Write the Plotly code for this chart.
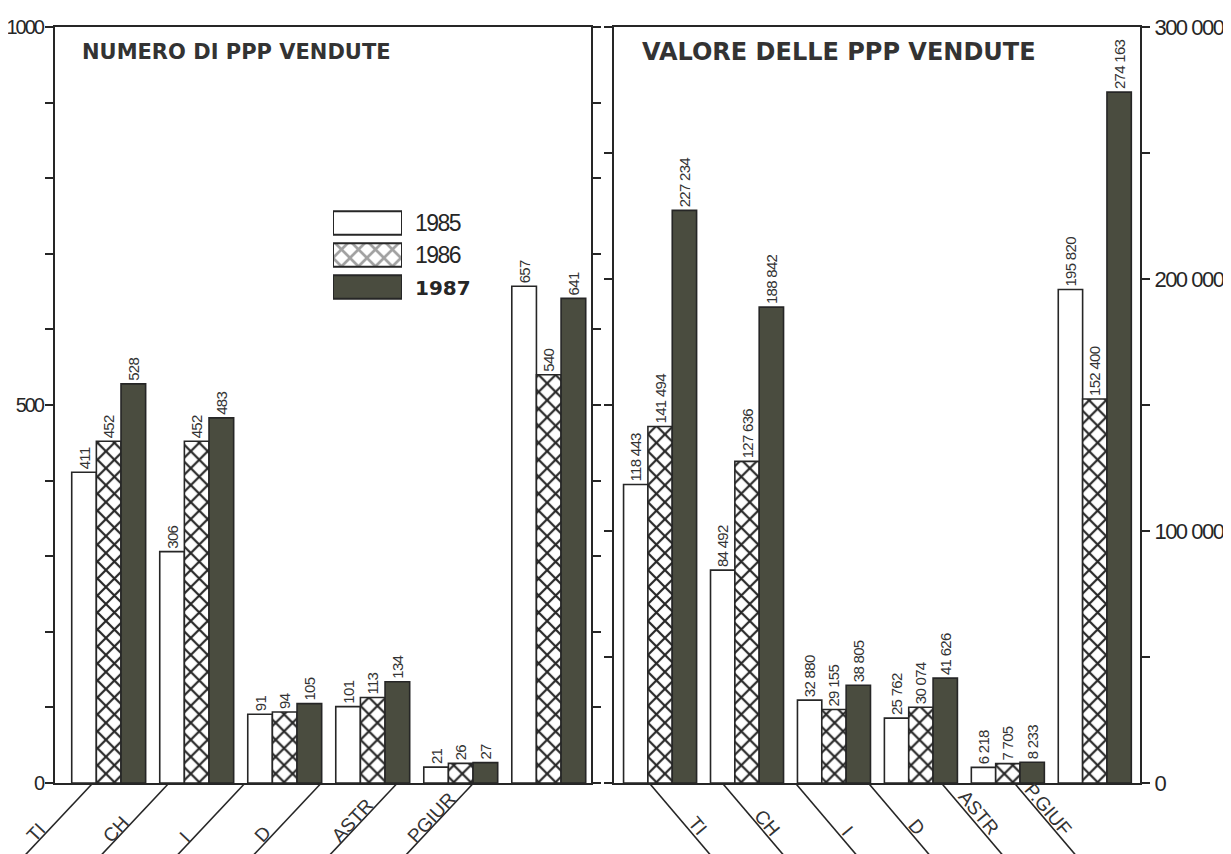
import plotly.graph_objects as go

# ---------------- data ----------------
categories_left = ["TI", "CH", "I", "D", "ASTR", "PGIUR"]
categories_right = ["TI", "CH", "I", "D", "ASTR", "P.GIUF"]
years = ["1985", "1986", "1987"]

count_1985 = [411, 306, 91, 101, 21, 657]
count_1986 = [452, 452, 94, 113, 26, 540]
count_1987 = [528, 483, 105, 134, 27, 641]

value_1985 = [118443, 84492, 32880, 25762, 6218, 195820]
value_1986 = [141494, 127636, 29155, 30074, 7705, 152400]
value_1987 = [227234, 188842, 38805, 41626, 8233, 274163]

left_ticks = [0, 500, 1000]
right_ticks = [0, 100000, 200000, 300000]
title_left = "NUMERO DI PPP VENDUTE"
title_right = "VALORE DELLE PPP VENDUTE"

# ---------------- styles ----------------
W, H = 1231, 854
OFF = 8  # page body margin in the browser
INK = "#262626"
DARK = "#4a4c3f"
NARROW = "Liberation Sans, Arial, sans-serif"
WIDE = "DejaVu Sans, Verdana, sans-serif"
PLAIN = "Liberation Sans, Arial, sans-serif"


def tight(s, ls):
    return "<span style='letter-spacing:%spx'>%s</span>" % (ls, s)


def spaced(v):
    return "{:,}".format(v).replace(",", " ")


L_DOM = (55, 591)
R_DOM = (614, 1140)
Y_TOP, Y_BOT = 27, 783
L_RANGE = (-0.61, 5.48)
R_RANGE = (-0.53, 5.52)


def xp(px):
    return (px - OFF) / W


def yp(py):
    return 1 - (py - OFF) / H


HATCH = dict(shape="x", fgcolor=INK, bgcolor="white", size=12, solidity=0.33, fillmode="replace")
year_style = {
    "1985": dict(color="white", pattern=dict(shape="")),
    "1986": dict(color="white", pattern=HATCH),
    "1987": dict(color=DARK, pattern=dict(shape="")),
}

fig = go.Figure()

left_series = {"1985": count_1985, "1986": count_1986, "1987": count_1987}
right_series = {"1985": value_1985, "1986": value_1986, "1987": value_1987}

for yr in years:
    st = year_style[yr]
    fig.add_trace(go.Bar(
        x=categories_left, y=left_series[yr], name=yr, xaxis="x", yaxis="y",
        marker=dict(color=st["color"], pattern=st["pattern"], line=dict(color=INK, width=1.6)),
        texttemplate=tight("%{y}", -0.7), textposition="outside", textangle=-90,
        constraintext="none", cliponaxis=False,
        textfont=dict(family=NARROW, size=15, color="#333333"),
    ))
    fig.add_trace(go.Bar(
        x=categories_right, y=right_series[yr], name=yr, xaxis="x2", yaxis="y2",
        marker=dict(color=st["color"], pattern=st["pattern"], line=dict(color=INK, width=1.6)),
        texttemplate=tight("%{y:,}", -0.7), textposition="outside", textangle=-90,
        constraintext="none", cliponaxis=False,
        textfont=dict(family=NARROW, size=15, color="#333333"),
    ))

# legend swatches drawn as bars on a small auxiliary axis pair
fig.add_trace(go.Bar(
    x=[1, 1, 1], y=years, orientation="h", xaxis="x3", yaxis="y3", width=0.74,
    marker=dict(color=["white", "white", DARK],
                pattern=dict(shape=["", "x", ""], fgcolor=INK, bgcolor="white",
                             size=12, solidity=0.4),
                line=dict(color=INK, width=2)),
    hoverinfo="skip",
))

axis_common = dict(showgrid=False, zeroline=False, showline=True, linecolor=INK, linewidth=2,
                   automargin=False)
tick_common = dict(ticks="outside", ticklen=8, tickwidth=1.6, tickcolor=INK)

fig.update_layout(
    width=W, height=H,
    margin=dict(l=0, r=0, t=0, b=0, autoexpand=False),
    paper_bgcolor="white", plot_bgcolor="white",
    showlegend=False,
    barmode="group", bargap=0.16, bargroupgap=0,
    separators=". ",
    xaxis=dict(domain=[xp(L_DOM[0]), xp(L_DOM[1])], range=list(L_RANGE), anchor="y",
               mirror=True, showticklabels=False, ticks="", **axis_common),
    yaxis=dict(domain=[yp(Y_BOT), yp(Y_TOP)], range=[0, 1000], anchor="x", side="left",
               tickvals=left_ticks, ticktext=[tight(v, -2) for v in left_ticks],
               tickfont=dict(family=NARROW, size=20, color=INK), ticklabelstandoff=-2,
               mirror="ticks",
               minor=dict(tickmode="linear", tick0=0, dtick=100, ticks="outside",
                          ticklen=8, tickwidth=1.6, tickcolor=INK),
               **tick_common, **axis_common),
    xaxis2=dict(domain=[xp(R_DOM[0]), xp(R_DOM[1])], range=list(R_RANGE), anchor="y2",
                mirror=True, showticklabels=False, ticks="", **axis_common),
    yaxis2=dict(domain=[yp(Y_BOT), yp(Y_TOP)], range=[0, 300000], anchor="x2", side="right",
                tickvals=right_ticks, ticktext=[tight(spaced(v), -1.5) for v in right_ticks],
                tickfont=dict(family=NARROW, size=22, color=INK),
                mirror="ticks",
                minor=dict(tickmode="linear", tick0=0, dtick=50000, ticks="outside",
                           ticklen=8, tickwidth=1.6, tickcolor=INK),
                **tick_common, **axis_common),
    xaxis3=dict(domain=[xp(333), xp(402)], range=[0, 1], anchor="y3", visible=False,
                automargin=False),
    yaxis3=dict(domain=[yp(303), yp(207)], type="category", categoryarray=years,
                range=[2.5, -0.5], anchor="x3", side="right", showline=False, ticks="",
                showgrid=False, zeroline=False, ticklabelstandoff=12, automargin=False,
                tickvals=years,
                ticktext=[tight(years[0], -1.5), tight(years[1], -1.5),
                          "<span style='font-family:DejaVu Sans;font-size:20px'><b>%s</b></span>" % years[2]],
                tickfont=dict(family=NARROW, size=23, color=INK)),
)

# titles
fig.add_annotation(xref="paper", yref="paper", x=xp(236), y=yp(52), text="<b>%s</b>" % title_left,
                   showarrow=False, xanchor="center", yanchor="middle",
                   font=dict(family=WIDE, size=21, color="#333333"))
fig.add_annotation(xref="paper", yref="paper", x=xp(839), y=yp(52), text="<b>%s</b>" % title_right,
                   showarrow=False, xanchor="center", yanchor="middle",
                   font=dict(family=WIDE, size=24, color="#333333"))


# category labels with slanted leader lines
def to_px(d, dom, rng):
    return dom[0] + (d - rng[0]) / (rng[1] - rng[0]) * (dom[1] - dom[0])


AXIS_Y = Y_BOT + 1
for i, lab in enumerate(categories_left):
    d = -0.19 + 0.865 * i
    px = to_px(d, L_DOM, L_RANGE)
    fig.add_shape(type="line", xref="paper", yref="paper",
                  x0=xp(px), y0=yp(AXIS_Y), x1=xp(px - 0.94 * 80), y1=yp(AXIS_Y + 80),
                  line=dict(color=INK, width=1.6))
    fig.add_annotation(xref="paper", yref="paper", x=xp(px - 0.94 * 64 - 12), y=yp(849),
                       text=lab, showarrow=False, textangle=-47, xanchor="left", yanchor="bottom",
                       font=dict(family=PLAIN, size=19, color="#333333"))

for i, lab in enumerate(categories_right):
    d = -0.115 + 0.84 * i
    px = to_px(d, R_DOM, R_RANGE)
    fig.add_shape(type="line", xref="paper", yref="paper",
                  x0=xp(px), y0=yp(AXIS_Y), x1=xp(px + 0.85 * 80), y1=yp(AXIS_Y + 80),
                  line=dict(color=INK, width=1.6))
    fig.add_annotation(xref="paper", yref="paper", x=xp(px + 0.85 * 57 + 15), y=yp(842),
                       text=lab, showarrow=False, textangle=50, xanchor="right", yanchor="bottom",
                       font=dict(family=PLAIN, size=19, color="#333333"))

fig.write_html("out.html")
